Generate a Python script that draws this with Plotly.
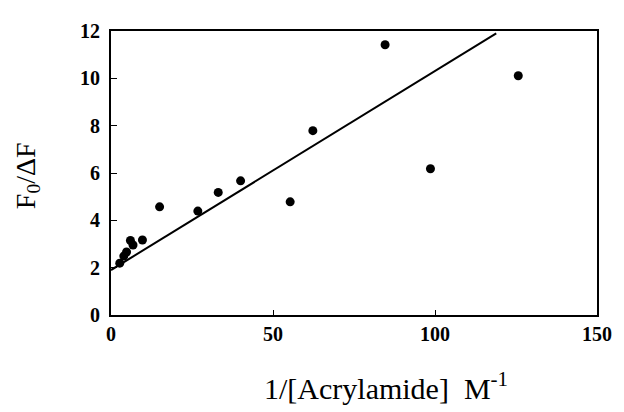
import plotly.graph_objects as go

inv_acrylamide = [2.7, 3.95, 4.8, 6.0, 6.8, 9.7, 15.0, 26.8, 33.1, 40.0, 55.3, 62.3, 84.6, 98.6, 125.7]
f0_df = [2.19, 2.49, 2.66, 3.15, 2.96, 3.17, 4.57, 4.39, 5.18, 5.67, 4.78, 7.79, 11.42, 6.18, 10.11]

fit_x = [0, 118.9]
fit_y = [1.9, 11.9]

x_ticks = [0, 50, 100, 150]
y_ticks = [0, 2, 4, 6, 8, 10, 12]

# page body has an 8px default margin; compensate so the plot lands where the reference has it
OFF = 8
L, R, T, B = 111, 605, 25, 315.3
PW, PH = R - L, B - T

fig = go.Figure()
fig.add_trace(go.Scatter(x=fit_x, y=fit_y, mode="lines",
                         line=dict(color="black", width=2), showlegend=False, cliponaxis=False))
fig.add_trace(go.Scatter(x=inv_acrylamide, y=f0_df, mode="markers",
                         marker=dict(color="black", size=9), showlegend=False))

tickfont = dict(family="Liberation Serif", size=20, color="black")
fig.update_layout(
    width=624 - OFF, height=412 - OFF,
    margin=dict(l=L - OFF, r=624 - R, t=T - OFF, b=412 - B, pad=0),
    paper_bgcolor="white", plot_bgcolor="white",
    xaxis=dict(range=[0, 150], tickvals=x_ticks, ticktext=[f"<b>{v}</b>" for v in x_ticks],
               ticks="inside", ticklen=5, tickwidth=1, tickcolor="black",
               showline=True, linecolor="black", linewidth=2, mirror=True,
               showgrid=False, zeroline=False, tickfont=tickfont),
    yaxis=dict(range=[0, 12], tickvals=y_ticks, ticktext=[f"<b>{v}</b>" for v in y_ticks],
               ticks="inside", ticklen=6, tickwidth=1, tickcolor="black",
               ticklabelstandoff=5,
               showline=True, linecolor="black", linewidth=2, mirror=True,
               showgrid=False, zeroline=False, tickfont=tickfont),
    annotations=[
        dict(text="1/[Acrylamide]  M<sup>-1</sup>", xref="paper", yref="paper",
             x=(391 - L) / PW, y=-(388 - B) / PH, showarrow=False,
             font=dict(family="Liberation Serif", size=30, color="black"),
             xanchor="center", yanchor="middle"),
        dict(text="F<sub>0</sub>/ΔF", xref="paper", yref="paper",
             x=-(L - 26) / PW, y=(B - 173) / PH, showarrow=False, textangle=-90,
             font=dict(family="Liberation Serif", size=28, color="black"),
             xanchor="center", yanchor="middle"),
    ],
)

fig.write_html("out.html")
